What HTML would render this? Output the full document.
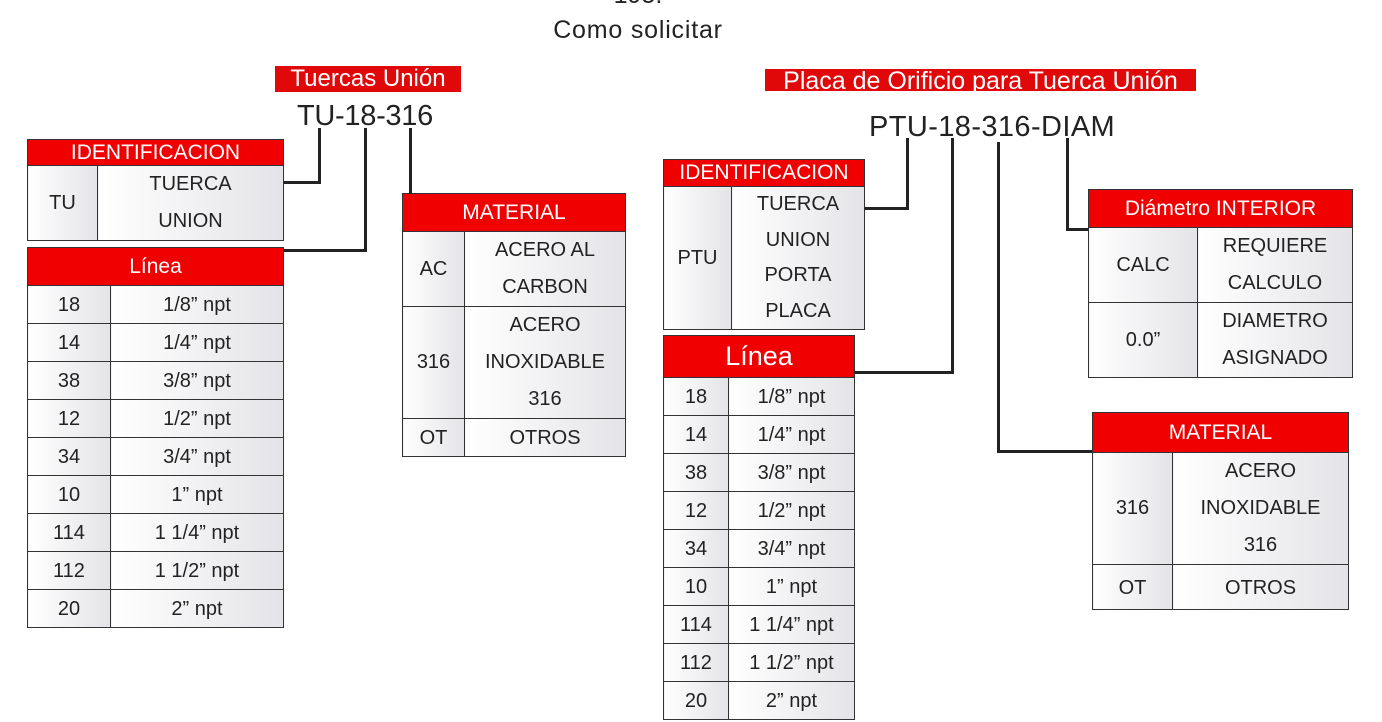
<!DOCTYPE html>
<html><head><meta charset="utf-8"><style>
body{margin:0;width:1382px;height:722px;background:#fff;position:relative;overflow:hidden;font-family:"Liberation Sans","DejaVu Sans",sans-serif;color:#222}
.a{position:absolute}
table{position:absolute;border-collapse:collapse;table-layout:fixed}
td{border:1.5px solid #333;text-align:center;font-size:20px;line-height:35px;padding:2px 0 0 0;background:linear-gradient(to right,#fff,#e4e4e8);color:#222}
td.m{line-height:37px;padding:0}
td.h{background:#f00000;color:#fff;border-color:#333;font-size:21px;padding:0;line-height:37px}
.r td{line-height:35px}
.r td.h{line-height:41px}
.l{position:absolute;background:#222}
.red{position:absolute;background:#e00808;color:#fff;text-align:center;white-space:nowrap}
</style></head><body>
<div class="a" style="left:0;width:1276px;top:16px;text-align:center;font-size:25px;letter-spacing:0.8px">Como solicitar</div>
<div class="a" style="left:0;width:1276px;top:-19px;text-align:center;font-size:25px">195.</div>

<div class="red" style="left:275px;top:66px;width:186px;height:26px;font-size:24px;line-height:26px">Tuercas Unión</div>
<div class="a" style="left:297px;top:100px;font-size:29px;letter-spacing:-0.3px">TU-18-316</div>

<table style="left:27px;top:139px;width:257px">
<col style="width:70px"><col>
<tr><td colspan="2" class="h" style="line-height:25px">IDENTIFICACION</td></tr>
<tr><td class="m">TU</td><td class="m">TUERCA<br>UNION</td></tr>
</table>
<table style="left:27px;top:247px;width:257px">
<col style="width:83px"><col>
<tr><td colspan="2" class="h">Línea</td></tr>
<tr><td>18</td><td>1/8” npt</td></tr>
<tr><td>14</td><td>1/4” npt</td></tr>
<tr><td>38</td><td>3/8” npt</td></tr>
<tr><td>12</td><td>1/2” npt</td></tr>
<tr><td>34</td><td>3/4” npt</td></tr>
<tr><td>10</td><td>1” npt</td></tr>
<tr><td>114</td><td>1 1/4” npt</td></tr>
<tr><td>112</td><td>1 1/2” npt</td></tr>
<tr><td>20</td><td>2” npt</td></tr>
</table>
<table style="left:402px;top:193px;width:224px">
<col style="width:62px"><col>
<tr><td colspan="2" class="h">MATERIAL</td></tr>
<tr><td class="m">AC</td><td class="m">ACERO AL<br>CARBON</td></tr>
<tr><td class="m">316</td><td class="m">ACERO<br>INOXIDABLE<br>316</td></tr>
<tr><td>OT</td><td>OTROS</td></tr>
</table>
<div class="l" style="left:318px;top:128px;width:3px;height:56px"></div>
<div class="l" style="left:284px;top:181px;width:37px;height:3px"></div>
<div class="l" style="left:364px;top:128px;width:3px;height:124px"></div>
<div class="l" style="left:284px;top:249px;width:83px;height:3px"></div>
<div class="l" style="left:409px;top:128px;width:3px;height:66px"></div>

<div class="red" style="left:765px;top:69px;width:431px;height:22px;font-size:25px;line-height:24px;overflow:hidden">Placa de Orificio para Tuerca Unión</div>
<div class="a" style="left:869px;top:111px;font-size:29px;letter-spacing:0.4px">PTU-18-316-DIAM</div>

<table style="left:663px;top:159px;width:202px">
<col style="width:68px"><col>
<tr><td colspan="2" class="h" style="line-height:26px">IDENTIFICACION</td></tr>
<tr><td class="m">PTU</td><td class="m" style="line-height:35.5px">TUERCA<br>UNION<br>PORTA<br>PLACA</td></tr>
</table>
<table class="r" style="left:663px;top:335px;width:192px">
<col style="width:65px"><col>
<tr><td colspan="2" class="h" style="font-size:27px">Línea</td></tr>
<tr><td>18</td><td>1/8” npt</td></tr>
<tr><td>14</td><td>1/4” npt</td></tr>
<tr><td>38</td><td>3/8” npt</td></tr>
<tr><td>12</td><td>1/2” npt</td></tr>
<tr><td>34</td><td>3/4” npt</td></tr>
<tr><td>10</td><td>1” npt</td></tr>
<tr><td>114</td><td>1 1/4” npt</td></tr>
<tr><td>112</td><td>1 1/2” npt</td></tr>
<tr><td>20</td><td>2” npt</td></tr>
</table>
<table style="left:1088px;top:189px;width:265px">
<col style="width:109px"><col>
<tr><td colspan="2" class="h">Diámetro INTERIOR</td></tr>
<tr><td class="m">CALC</td><td class="m" style="line-height:37px">REQUIERE<br>CALCULO</td></tr>
<tr><td class="m">0.0”</td><td class="m" style="line-height:37px">DIAMETRO<br>ASIGNADO</td></tr>
</table>
<table style="left:1092px;top:412px;width:257px">
<col style="width:80px"><col>
<tr><td colspan="2" class="h" style="line-height:39px">MATERIAL</td></tr>
<tr><td class="m">316</td><td class="m">ACERO<br>INOXIDABLE<br>316</td></tr>
<tr><td style="line-height:42px">OT</td><td style="line-height:42px">OTROS</td></tr>
</table>
<div class="l" style="left:906px;top:138px;width:3px;height:72px"></div>
<div class="l" style="left:865px;top:207px;width:44px;height:3px"></div>
<div class="l" style="left:951px;top:138px;width:3px;height:236px"></div>
<div class="l" style="left:855px;top:371px;width:99px;height:3px"></div>
<div class="l" style="left:997px;top:142px;width:3px;height:311px"></div>
<div class="l" style="left:997px;top:450px;width:95px;height:3px"></div>
<div class="l" style="left:1066px;top:138px;width:3px;height:93px"></div>
<div class="l" style="left:1066px;top:228px;width:22px;height:3px"></div>
</body></html>
